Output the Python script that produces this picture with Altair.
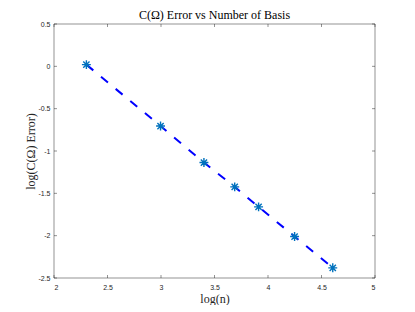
import altair as alt
import pandas as pd

# Data
log_n = [2.3026, 2.9957, 3.4012, 3.6889, 3.9120, 4.2485, 4.6052]
log_err = [0.02, -0.705, -1.136, -1.424, -1.66, -2.01, -2.38]
x_ticks = [2, 2.5, 3, 3.5, 4, 4.5, 5]
y_ticks = [-2.5, -2, -1.5, -1, -0.5, 0, 0.5]

W, H = 321, 254
TICK = 3
AX = "#262626"

df = pd.DataFrame({"x": log_n, "y": log_err})
xt = pd.DataFrame({"x": x_ticks})
yt = pd.DataFrame({"y": y_ticks})

xs = alt.Scale(domain=[2, 5], nice=False, zero=False)
ys = alt.Scale(domain=[-2.5, 0.5], nice=False, zero=False)

x_axis = alt.Axis(values=x_ticks, ticks=False, domain=False, grid=False,
                  labelFont="Liberation Sans", labelFontSize=7, labelColor=AX,
                  labelPadding=5, labelExpr="toString(datum.value)",
                  title="log(n)", titleFont="Liberation Serif", titleFontSize=12,
                  titleFontWeight="normal", titleColor=AX, titlePadding=3)
y_axis = alt.Axis(values=y_ticks, ticks=False, domain=False, grid=False,
                  labelFont="Liberation Sans", labelFontSize=7, labelColor=AX,
                  labelPadding=4, labelExpr="toString(datum.value)",
                  title="log(C(Ω) Error)", titleFont="Liberation Serif", titleFontSize=12,
                  titleFontWeight="normal", titleColor=AX, titlePadding=0)

X = alt.X("x:Q", scale=xs, axis=x_axis)
Y = alt.Y("y:Q", scale=ys, axis=y_axis)

line = alt.Chart(df).mark_line(color="#0000ff", strokeWidth=2, strokeDash=[9, 10]).encode(x=X, y=Y)

star = "M-1,0L1,0M0,-1L0,1M-0.7,-0.7L0.7,0.7M-0.7,0.7L0.7,-0.7"
pts = alt.Chart(df).mark_point(shape=star, filled=False, stroke="#0072BD",
                               strokeWidth=1.4, size=80, opacity=1).encode(x=X, y=Y)

tb = alt.Chart(xt).mark_rule(color=AX, strokeWidth=0.5).encode(x=X, y=alt.value(H), y2=alt.value(H - TICK))
tt = alt.Chart(xt).mark_rule(color=AX, strokeWidth=0.5).encode(x=X, y=alt.value(0), y2=alt.value(TICK))
tl = alt.Chart(yt).mark_rule(color=AX, strokeWidth=0.5).encode(y=Y, x=alt.value(0), x2=alt.value(TICK))
tr = alt.Chart(yt).mark_rule(color=AX, strokeWidth=0.5).encode(y=Y, x=alt.value(W), x2=alt.value(W - TICK))

chart = alt.layer(tb, tt, tl, tr, line, pts).properties(
    width=W, height=H,
    title=alt.TitleParams("C(Ω) Error vs Number of Basis", font="Liberation Serif",
                          fontSize=12, fontWeight="normal", color="#000", offset=0,
                          dy=2, anchor="middle"),
    autosize=alt.AutoSizeParams(type="none"),
    padding={"left": 46, "top": 16, "right": 32, "bottom": 27},
    background="white",
).configure_view(stroke=AX, strokeWidth=0.5)

chart.save("out.html", embed_options={"renderer": "svg", "actions": False})
